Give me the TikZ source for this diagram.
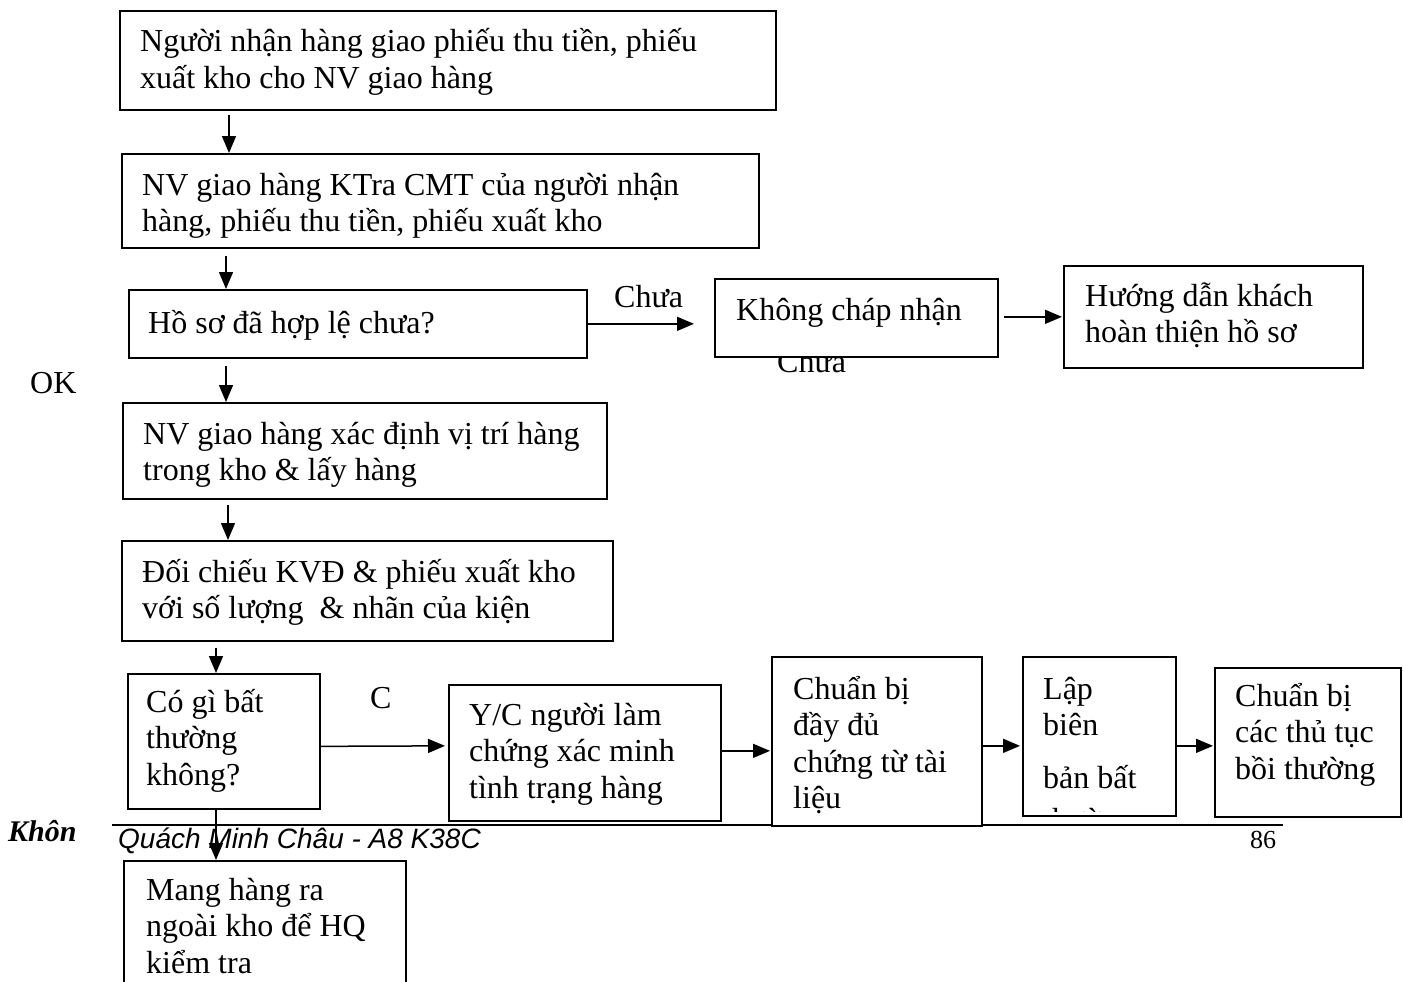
\documentclass[tikz,border=0pt]{standalone}
\usepackage{fontspec}
\setmainfont{Liberation Serif}
\newfontfamily\arialfont{Liberation Sans}
\usetikzlibrary{arrows.meta}
% stacked lines of text whose anchor is the first baseline
\newcommand\lns[1]{\vtop{\halign{##\hfil\cr#1\crcr}}}
\begin{document}
\begin{tikzpicture}[x=1pt,y=-1pt,
  box/.style={draw,fill=white,inner sep=0pt,line width=1.7pt,anchor=north west},
  txt/.style={anchor=base west,inner sep=0pt,font=\fontsize{32}{36.5}\selectfont},
  lbl/.style={anchor=base west,inner sep=0pt,font=\fontsize{32}{36}\selectfont},
  arr/.style={-{Triangle[length=17pt,width=14pt]},line width=1.5pt}]
\clip (0,0) rectangle (1403,982);
\fill[white] (0,0) rectangle (1403,982);

% page footer
\draw[line width=1.3pt] (112,825) -- (1283,825);
\node[anchor=base west,inner sep=0pt,font=\arialfont\itshape\fontsize{28}{32}\selectfont] (ft) at (118,848) {Quách Minh Châu - A8 K38C};
\node[anchor=base west,inner sep=0pt,font=\fontsize{26}{30}\selectfont] (pg) at (1250,848) {86};
\node[anchor=base west,inner sep=0pt,font=\bfseries\itshape\fontsize{30}{34}\selectfont] (kh) at (8,841) {Khôn};

% branch labels
\node[lbl] (l1) at (614,307) {Chưa};
\node[lbl] (l2) at (777,372) {Chưa};
\node[lbl] (l3) at (30,393) {OK};
\node[lbl] (l4) at (370,708) {C};

% boxes
\node[box,minimum width=656pt,minimum height=99pt] (b1) at (119,10) {};
\node[box,minimum width=637pt,minimum height=94pt] (b2) at (121,153) {};
\node[box,minimum width=458pt,minimum height=68pt] (b3) at (128,289) {};
\node[box,minimum width=283pt,minimum height=78pt] (b4) at (714,278) {};
\node[box,minimum width=299pt,minimum height=102pt] (b5) at (1063,265) {};
\node[box,minimum width=484pt,minimum height=96pt] (b6) at (122,402) {};
\node[box,minimum width=491pt,minimum height=100pt] (b7) at (121,540) {};
\node[box,minimum width=192pt,minimum height=135pt] (b8) at (127,673) {};
\node[box,minimum width=272pt,minimum height=136pt] (b9) at (448,684) {};
\node[box,minimum width=210pt,minimum height=169pt] (b10) at (771,656) {};
\node[box,minimum width=153pt,minimum height=159pt] (b11) at (1022,656) {};
\node[box,minimum width=186pt,minimum height=149pt] (b12) at (1214,667) {};
\node[box,minimum width=282pt,minimum height=140pt] (b13) at (123,860) {};

% box texts
\node[txt] (t1) at (140,52) {\lns{Người nhận hàng giao phiếu thu tiền, phiếu\cr xuất kho cho NV giao hàng}};
\node[txt] (t2) at (142,195) {\lns{NV giao hàng KTra CMT của người nhận\cr hàng, phiếu thu tiền, phiếu xuất kho}};
\node[txt] (t3) at (148,333) {Hồ sơ đã hợp lệ chưa?};
\node[txt] (t4) at (736,320) {Không cháp nhận};
\node[txt] (t5) at (1085,306) {\lns{Hướng dẫn khách\cr hoàn thiện hồ sơ}};
\node[txt] (t6) at (143,444) {\lns{NV giao hàng xác định vị trí hàng\cr trong kho \& lấy hàng}};
\node[txt] (t7) at (142,582) {\lns{Đối chiếu KVĐ \& phiếu xuất kho\cr với số lượng \ \& nhãn của kiện}};
\node[txt] (t8) at (146,712) {\lns{Có gì bất\cr thường\cr không?}};
\node[txt] (t9) at (469,725) {\lns{Y/C người làm\cr chứng xác minh\cr tình trạng hàng}};
\node[txt] (t10) at (793,699) {\lns{Chuẩn bị\cr đầy đủ\cr chứng từ tài\cr liệu}};
\begin{scope}
  % the last line runs past the bottom of its box and is cut off
  \clip (b11.north west) rectangle ([yshift=5pt]b11.south east);
  \node[txt] (t11) at (1043,699) {\lns{Lập\cr biên\cr\noalign{\vskip 16pt}bản bất\cr\noalign{\vskip 6pt}thường}};
\end{scope}
\node[txt] (t12) at (1235,706) {\lns{Chuẩn bị\cr các thủ tục\cr bồi thường}};
\node[txt] (t13) at (146,900) {\lns{Mang hàng ra\cr ngoài kho để HQ\cr kiểm tra}};

% vertical flow
\draw[arr,shorten <=4pt] ([xshift=110pt]b1.south west) -- ([xshift=108pt]b2.north west);
\draw[arr,shorten <=7pt] ([xshift=105pt]b2.south west) -- ([xshift=98pt]b3.north west);
\draw[arr,shorten <=7pt] ([xshift=98pt]b3.south west) -- ([xshift=104pt]b6.north west);
\draw[arr,shorten <=5pt] ([xshift=106pt]b6.south west) -- ([xshift=107pt]b7.north west);
\draw[arr,shorten <=6pt] ([xshift=95pt]b7.south west) -- ([xshift=89pt]b8.north west);
\draw[arr] ([xshift=89pt]b8.south west) -- ([xshift=93pt]b13.north west);

% horizontal flow
\draw[arr,shorten >=20pt] (b3.east) -- (b3.east -| b4.west);
\draw[arr,shorten <=5pt,shorten >=1pt] ([yshift=1pt]b4.east) -- ([yshift=1pt]b4.east -| b5.west);
\draw[arr,shorten >=3pt] ([yshift=-5pt]b8.east) -- ([yshift=7pt]b9.west);
\draw[arr,shorten >=1pt] ([yshift=2pt]b9.east) -- ([yshift=-9.5pt]b10.west);
\draw[arr,shorten >=2pt] ([yshift=-4.5pt]b10.east) -- ([yshift=-9.5pt]b11.west);
\draw[arr,shorten >=1pt] ([yshift=-9.5pt]b11.east) -- ([yshift=-3.5pt]b12.west);
\end{tikzpicture}
\end{document}
